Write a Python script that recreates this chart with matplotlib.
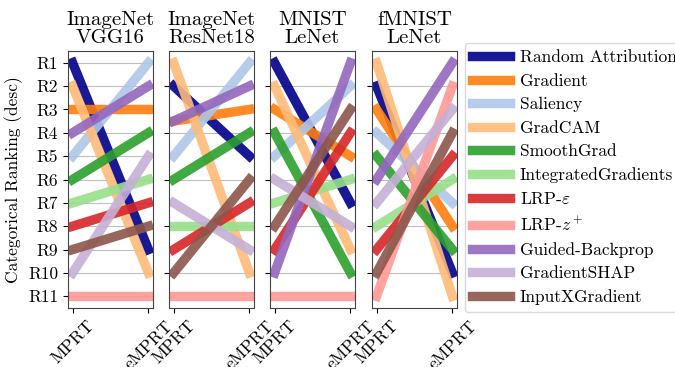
import matplotlib
matplotlib.use("Agg")
import matplotlib.pyplot as plt

plt.rcParams['font.family'] = ['cmr10', 'DejaVu Serif']
plt.rcParams['mathtext.fontset'] = 'cm'
plt.rcParams['axes.unicode_minus'] = False
plt.rcParams['axes.formatter.use_mathtext'] = True

methods = ['Random Attribution', 'Gradient', 'Saliency', 'GradCAM', 'SmoothGrad',
           'IntegratedGradients', r'LRP-$\varepsilon$', r'LRP-$z^+$',
           'Guided-Backprop', 'GradientSHAP', 'InputXGradient']
colors = ['#00008b', '#ff7f0e', '#aec7e8', '#ffbb78', '#2ca02c', '#98df8a',
          '#d62728', '#ff9896', '#9467bd', '#c5b0d5', '#8c564b']

titles = ['ImageNet\nVGG16', 'ImageNet\nResNet18', 'MNIST\nLeNet', 'fMNIST\nLeNet']
metrics = ['MPRT', 'eMPRT']
rank_labels = ['R1', 'R2', 'R3', 'R4', 'R5', 'R6', 'R7', 'R8', 'R9', 'R10', 'R11']

# rankings per method (same order as methods), MPRT then eMPRT
vgg16_mprt = [1, 3, 5, 2, 6, 7, 8, 11, 4, 10, 9]
vgg16_emprt = [9, 3, 1, 10, 4, 6, 7, 11, 2, 5, 8]
resnet18_mprt = [2, 3.5, 5, 1, 6, 8, 9, 11, 3.5, 7, 10]
resnet18_emprt = [5, 3, 1, 10, 4, 8, 7, 11, 2, 9, 6]
mnist_mprt = [1, 3, 5, 2, 4, 7, 9, 11, 10, 6, 8]
mnist_emprt = [7, 5, 2, 9, 10, 6, 4, 11, 1, 8, 3]
fmnist_mprt = [2, 3, 4, 1, 5, 8, 9, 11, 6, 7, 10]
fmnist_emprt = [10, 8, 7, 11, 9, 6, 5, 2, 1, 3, 4]

panels = [(vgg16_mprt, vgg16_emprt), (resnet18_mprt, resnet18_emprt),
          (mnist_mprt, mnist_emprt), (fmnist_mprt, fmnist_emprt)]

fig = plt.figure(figsize=(6.75, 3.67), dpi=100)
lefts = [68, 169, 270, 372]
for i, (left_vals, right_vals) in enumerate(panels):
    ax = fig.add_axes([lefts[i] / 675, 1 - 308 / 367, 85 / 675, 257 / 367])
    for m in range(len(methods)):
        ax.plot([0, 1], [left_vals[m], right_vals[m]], color=colors[m],
                lw=6.8, alpha=0.9, label=methods[m])
    ax.set_xlim(-0.06, 1.06)
    ax.set_ylim(11.5, 0.5)
    ax.set_xticks([0, 1])
    ax.set_xticklabels(metrics, rotation=45, fontsize=12.5)
    if i == 0:
        ax.set_yticks(range(1, 12))
        ax.set_yticklabels(rank_labels, fontsize=12.5)
        ax.set_ylabel('Categorical Ranking (desc)', fontsize=12.5)
    else:
        ax.set_yticks([2, 4, 6, 8, 10])
        ax.set_yticklabels([])
    ax.yaxis.grid(True, color='#b0b0b0', lw=0.8, alpha=0.8)
    ax.set_axisbelow(True)
    for s in ax.spines.values():
        s.set_color('#444444')
    ax.set_title(titles[i], fontsize=15, linespacing=0.95)

handles, labels = ax.get_legend_handles_labels()
fig.legend(handles, labels, loc='upper left', bbox_to_anchor=(465 / 675, 1 - 43 / 367),
           fontsize=12.5, frameon=True, edgecolor='#d0d0d0', handlelength=2.2,
           handletextpad=0.55, labelspacing=0.47, borderaxespad=0)

plt.savefig('out.png', dpi=100)
